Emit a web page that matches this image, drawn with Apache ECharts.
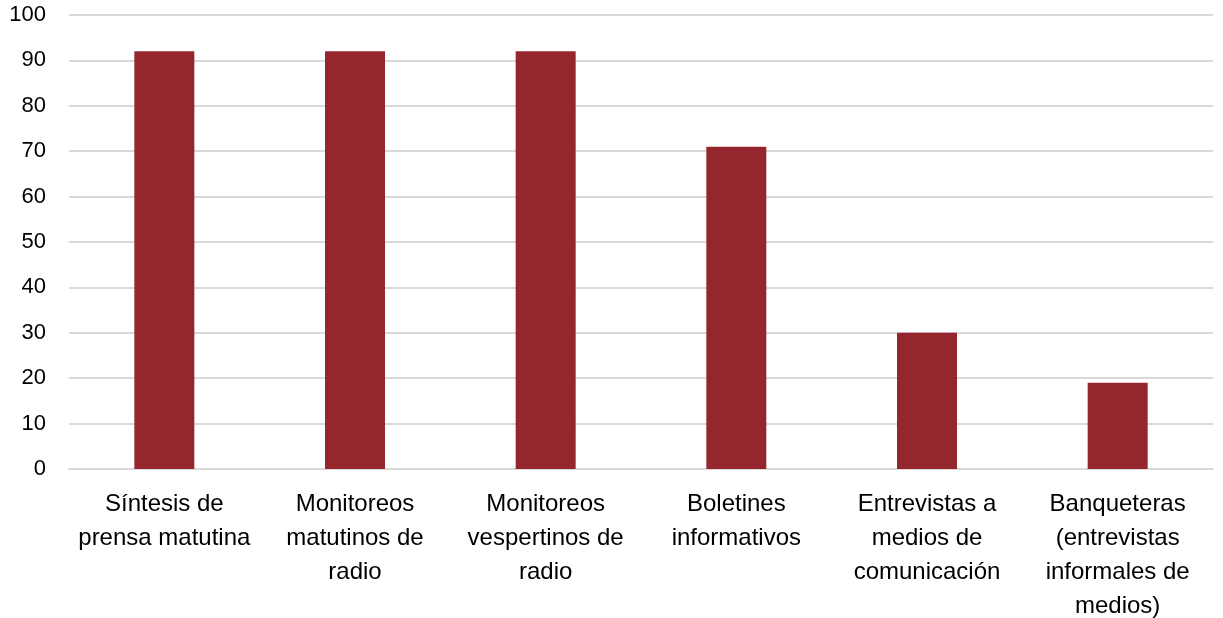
<!DOCTYPE html>
<html><head><meta charset="utf-8">
<script src="https://cdn.jsdelivr.net/npm/echarts@6/dist/echarts.min.js"></script>
<style>html,body{margin:0;padding:0;background:#fff}#c{width:1223px;height:618px}</style>
</head><body><div id="c"></div>
<script>
const categories = [
  "Síntesis de\nprensa matutina",
  "Monitoreos\nmatutinos de\nradio",
  "Monitoreos\nvespertinos de\nradio",
  "Boletines\ninformativos",
  "Entrevistas a\nmedios de\ncomunicación",
  "Banqueteras\n(entrevistas\ninformales de\nmedios)"
];
const values = [92, 92, 92, 71, 30, 19];
const yTicks = { min: 0, max: 100, interval: 10 };

const chart = echarts.init(document.getElementById('c'), null, {renderer: 'canvas'});
chart.setOption({
  animation: false,
  backgroundColor: '#fff',
  grid: { left: 69, right: 10, top: 15, bottom: 149, containLabel: false, outerBoundsMode: 'none' },
  xAxis: {
    type: 'category',
    data: categories,
    axisLine: { show: true, lineStyle: { color: '#d9d9d9', width: 2 } },
    axisTick: { show: false },
    axisLabel: {
      interval: 0, margin: 18, color: '#000',
      fontFamily: 'Liberation Sans, Arial, sans-serif', fontSize: 24, lineHeight: 34
    }
  },
  yAxis: {
    type: 'value', min: yTicks.min, max: yTicks.max, interval: yTicks.interval,
    axisLine: { show: false }, axisTick: { show: false },
    splitLine: { lineStyle: { color: '#d9d9d9', width: 2 } },
    axisLabel: {
      margin: 23, color: '#000',
      fontFamily: 'Liberation Sans, Arial, sans-serif', fontSize: 22
    }
  },
  series: [{
    type: 'bar', data: values, barWidth: 60,
    itemStyle: { color: '#95262e' }
  }]
});
</script></body></html>
